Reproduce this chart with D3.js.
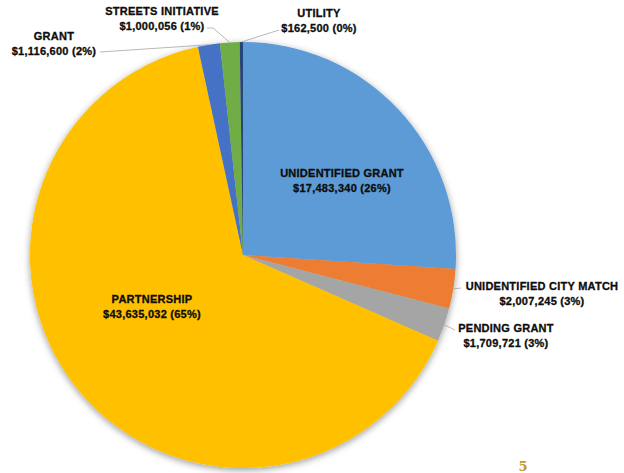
<!DOCTYPE html>
<html>
<head>
<meta charset="UTF-8">
<script src="https://cdn.jsdelivr.net/npm/d3@7"></script>
<style>
  body { margin: 0; background: white; }
  svg text { font-family: "Liberation Sans", Arial, sans-serif; font-weight: bold; }
</style>
</head>
<body>
<div id="chart"></div>
<script>
// slice data, clockwise from 12 o'clock
const categories = ["UNIDENTIFIED GRANT", "UNIDENTIFIED CITY MATCH", "PENDING GRANT",
  "PARTNERSHIP", "GRANT", "STREETS INITIATIVE", "UTILITY"];
const amounts = [17483340, 2007245, 1709721, 43635032, 1116600, 1000056, 162500];
const percents = ["26%", "3%", "3%", "65%", "2%", "1%", "0%"];
const colors = ["#5B9BD5", "#ED7D31", "#A5A5A5", "#FFC000", "#4472C4", "#70AD47", "#264478"];

const w = 624, h = 473;
const cx = 243, cy = 255, r = 213;

// where each label sits (center of the two lines) and whether it needs a leader line
const labelPos = {
  "UNIDENTIFIED GRANT": { x: 342, y: 180, leader: false },
  "UNIDENTIFIED CITY MATCH": { x: 542, y: 293, leader: true, lx: 461, ly: 288 },
  "PENDING GRANT": { x: 506, y: 335, leader: true, lx: 455, ly: 330 },
  "PARTNERSHIP": { x: 152, y: 306, leader: false },
  "GRANT": { x: 54, y: 43, leader: true, lx: 100, ly: 52 },
  "STREETS INITIATIVE": { x: 162, y: 18, leader: true, lx: 207, ly: 28, hx: 213 },
  "UTILITY": { x: 319, y: 20, leader: true, lx: 279, ly: 30 }
};

const data = categories.map((c, i) => ({ name: c, value: amounts[i], pct: percents[i], color: colors[i] }));

const svg = d3.select('#chart').append('svg')
  .attr('width', w)
  .attr('height', h);

const defs = svg.append('defs');
defs.append('filter')
  .attr('id', 'shadow')
  .attr('x', '-10%').attr('y', '-10%').attr('width', '120%').attr('height', '120%')
  .append('feDropShadow')
  .attr('dx', 0).attr('dy', 2)
  .attr('stdDeviation', 3.5)
  .attr('flood-color', '#000')
  .attr('flood-opacity', 0.4);

const pie = d3.pie().sort(null).value(d => d.value);
const arcs = pie(data);
const arc = d3.arc().innerRadius(0).outerRadius(r);

const g = svg.append('g').attr('transform', `translate(${cx},${cy})`);

g.append('g')
  .attr('filter', 'url(#shadow)')
  .selectAll('path')
  .data(arcs)
  .enter()
  .append('path')
  .attr('d', arc)
  .attr('fill', d => d.data.color);

// leader lines from the slice edge to the label
arcs.forEach(a => {
  const p = labelPos[a.data.name];
  if (!p.leader) return;
  const mid = (a.startAngle + a.endAngle) / 2;
  const ex = cx + Math.sin(mid) * r;
  const ey = cy - Math.cos(mid) * r;
  const pts = [[p.lx, p.ly]];
  if (p.hx) pts.push([p.hx, p.ly]);
  pts.push([ex, ey]);
  svg.append('path')
    .attr('d', d3.line()(pts))
    .attr('fill', 'none')
    .attr('stroke', '#A6A6A6')
    .attr('stroke-width', 0.8);
});

// labels
const fmt = d3.format(',');
arcs.forEach(a => {
  const p = labelPos[a.data.name];
  const t = svg.append('text')
    .attr('x', p.x)
    .attr('y', p.y)
    .attr('text-anchor', 'middle')
    .attr('fill', '#0D0D0D')
    .attr('stroke', '#0D0D0D')
    .attr('stroke-width', 0.3)
    .style('letter-spacing', '0.25px')
    .style('font-size', '11px');
  t.append('tspan').attr('x', p.x).attr('dy', '-0.25em').text(a.data.name);
  t.append('tspan').attr('x', p.x).attr('dy', '1.3em').text(`$${fmt(a.data.value)} (${a.data.pct})`);
});

// page number
svg.append('text')
  .attr('x', 523)
  .attr('y', 471)
  .attr('text-anchor', 'middle')
  .attr('fill', '#C49A1E')
  .style('font-family', '"DejaVu Serif", serif')
  .style('font-size', '13px')
  .text('5');
</script>
</body>
</html>
